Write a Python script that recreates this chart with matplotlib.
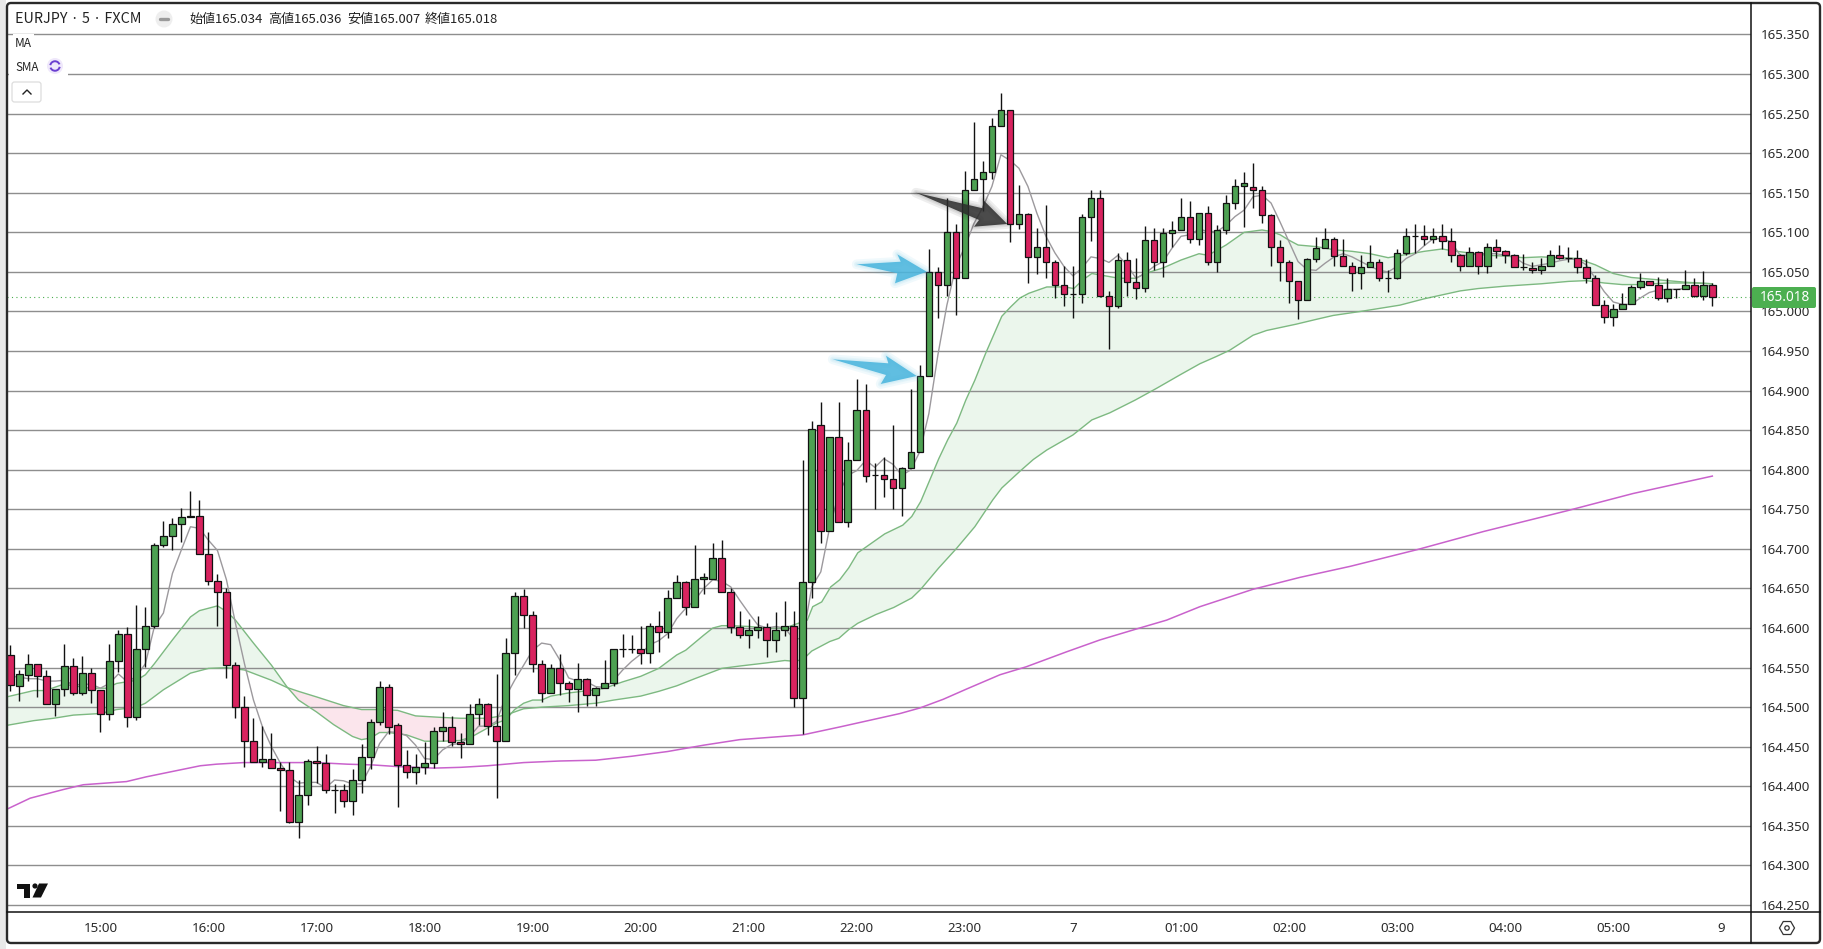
import numpy as np
import matplotlib
matplotlib.use("Agg")
import matplotlib.pyplot as plt
from matplotlib.patches import Polygon, Circle, FancyBboxPatch, Arc

plt.rcParams["font.family"] = ["Noto Sans", "DejaVu Sans"]

# EURJPY 5 min candles
open_p = [
    164.566, 164.527, 164.541, 164.554, 164.540, 164.504, 164.523, 164.552, 164.518, 164.543,
    164.522, 164.492, 164.558, 164.592, 164.487, 164.574, 164.603, 164.705, 164.716, 164.732,
    164.740, 164.742, 164.694, 164.660, 164.646, 164.553, 164.500, 164.457, 164.431, 164.435,
    164.423, 164.420, 164.355, 164.389, 164.432, 164.429, 164.395, 164.395, 164.381, 164.408,
    164.437, 164.481, 164.526, 164.478, 164.427, 164.418, 164.424, 164.430, 164.470, 164.475,
    164.456, 164.453, 164.491, 164.504, 164.476, 164.457, 164.569, 164.641, 164.617, 164.555,
    164.518, 164.550, 164.530, 164.523, 164.535, 164.516, 164.524, 164.530, 164.573, 164.573,
    164.573, 164.569, 164.603, 164.595, 164.638, 164.658, 164.627, 164.662, 164.662, 164.689,
    164.646, 164.601, 164.591, 164.598, 164.601, 164.585, 164.598, 164.603, 164.512, 164.658,
    164.857, 164.722, 164.841, 164.734, 164.812, 164.876, 164.793, 164.793, 164.788, 164.777,
    164.802, 164.823, 164.918, 165.050, 165.033, 165.101, 165.042, 165.154, 165.168, 165.176,
    165.235, 165.254, 165.110, 165.123, 165.069, 165.081, 165.063, 165.033, 165.022, 165.022,
    165.119, 165.143, 165.019, 165.007, 165.065, 165.037, 165.030, 165.090, 165.062, 165.099,
    165.103, 165.120, 165.092, 165.125, 165.062, 165.103, 165.137, 165.159, 165.157, 165.154,
    165.122, 165.081, 165.062, 165.038, 165.015, 165.066, 165.080, 165.092, 165.070, 165.058,
    165.048, 165.056, 165.062, 165.042, 165.042, 165.074, 165.096, 165.096, 165.091, 165.095,
    165.089, 165.072, 165.057, 165.075, 165.058, 165.082, 165.076, 165.071, 165.056, 165.055,
    165.052, 165.058, 165.072, 165.067, 165.068, 165.056, 165.042, 165.008, 164.993, 165.003,
    165.010, 165.031, 165.038, 165.033, 165.017, 165.029, 165.028, 165.034, 165.020, 165.034,
]
high_p = [
    164.578, 164.547, 164.567, 164.555, 164.547, 164.523, 164.580, 164.562, 164.565, 164.550,
    164.522, 164.580, 164.598, 164.601, 164.629, 164.627, 164.708, 164.735, 164.739, 164.752,
    164.773, 164.762, 164.721, 164.668, 164.650, 164.557, 164.514, 164.486, 164.476, 164.468,
    164.431, 164.431, 164.408, 164.435, 164.451, 164.441, 164.403, 164.403, 164.422, 164.454,
    164.485, 164.533, 164.529, 164.480, 164.446, 164.441, 164.456, 164.475, 164.494, 164.489,
    164.468, 164.504, 164.512, 164.505, 164.542, 164.587, 164.645, 164.649, 164.622, 164.560,
    164.555, 164.567, 164.533, 164.556, 164.537, 164.526, 164.559, 164.574, 164.593, 164.591,
    164.603, 164.606, 164.622, 164.648, 164.667, 164.660, 164.705, 164.670, 164.708, 164.711,
    164.650, 164.622, 164.612, 164.615, 164.607, 164.620, 164.634, 164.622, 164.812, 164.862,
    164.885, 164.841, 164.885, 164.835, 164.915, 164.908, 164.809, 164.816, 164.856, 164.804,
    164.902, 164.933, 165.079, 165.056, 165.143, 165.110, 165.178, 165.240, 165.190, 165.244,
    165.276, 165.254, 165.160, 165.124, 165.106, 165.134, 165.065, 165.057, 165.058, 165.123,
    165.153, 165.153, 165.026, 165.074, 165.075, 165.067, 165.108, 165.106, 165.105, 165.114,
    165.144, 165.140, 165.125, 165.133, 165.109, 165.147, 165.168, 165.176, 165.187, 165.159,
    165.123, 165.090, 165.065, 165.039, 165.067, 165.094, 165.105, 165.094, 165.092, 165.063,
    165.072, 165.084, 165.066, 165.053, 165.079, 165.105, 165.111, 165.109, 165.106, 165.110,
    165.106, 165.073, 165.082, 165.076, 165.087, 165.091, 165.078, 165.073, 165.073, 165.062,
    165.068, 165.078, 165.084, 165.082, 165.078, 165.066, 165.046, 165.015, 165.009, 165.023,
    165.034, 165.049, 165.039, 165.043, 165.042, 165.029, 165.053, 165.042, 165.051, 165.036,
]
low_p = [
    164.520, 164.508, 164.533, 164.513, 164.504, 164.489, 164.514, 164.516, 164.516, 164.505,
    164.469, 164.484, 164.545, 164.475, 164.484, 164.551, 164.600, 164.702, 164.698, 164.709,
    164.740, 164.694, 164.655, 164.603, 164.537, 164.486, 164.424, 164.431, 164.425, 164.423,
    164.369, 164.354, 164.335, 164.377, 164.404, 164.392, 164.366, 164.374, 164.364, 164.392,
    164.422, 164.477, 164.466, 164.374, 164.411, 164.403, 164.415, 164.423, 164.457, 164.451,
    164.436, 164.453, 164.477, 164.465, 164.385, 164.457, 164.541, 164.600, 164.544, 164.507,
    164.518, 164.515, 164.506, 164.494, 164.501, 164.502, 164.524, 164.527, 164.564, 164.568,
    164.555, 164.556, 164.570, 164.588, 164.638, 164.616, 164.627, 164.643, 164.662, 164.645,
    164.594, 164.588, 164.575, 164.588, 164.564, 164.570, 164.590, 164.500, 164.466, 164.638,
    164.708, 164.722, 164.734, 164.728, 164.812, 164.785, 164.750, 164.766, 164.751, 164.742,
    164.802, 164.823, 164.918, 164.992, 165.020, 164.995, 165.042, 165.154, 165.127, 165.167,
    165.235, 165.088, 165.104, 165.036, 165.047, 165.042, 165.017, 165.007, 164.992, 165.011,
    165.089, 165.018, 164.952, 165.005, 165.020, 165.016, 165.025, 165.052, 165.043, 165.081,
    165.103, 165.087, 165.084, 165.059, 165.050, 165.098, 165.129, 165.107, 165.131, 165.112,
    165.057, 165.038, 165.011, 164.991, 165.014, 165.063, 165.080, 165.058, 165.058, 165.026,
    165.029, 165.056, 165.038, 165.025, 165.041, 165.071, 165.074, 165.084, 165.086, 165.079,
    165.063, 165.051, 165.057, 165.047, 165.049, 165.068, 165.061, 165.056, 165.052, 165.048,
    165.047, 165.058, 165.066, 165.063, 165.049, 165.036, 165.008, 164.985, 164.982, 165.003,
    165.009, 165.028, 165.033, 165.014, 165.012, 165.017, 165.028, 165.018, 165.015, 165.007,
]
close_p = [
    164.528, 164.542, 164.554, 164.540, 164.504, 164.523, 164.552, 164.518, 164.543, 164.522,
    164.492, 164.558, 164.592, 164.487, 164.574, 164.603, 164.705, 164.716, 164.732, 164.740,
    164.742, 164.694, 164.660, 164.646, 164.553, 164.500, 164.457, 164.431, 164.435, 164.423,
    164.420, 164.355, 164.389, 164.432, 164.429, 164.395, 164.395, 164.381, 164.408, 164.437,
    164.481, 164.526, 164.475, 164.427, 164.418, 164.424, 164.430, 164.470, 164.475, 164.456,
    164.453, 164.491, 164.504, 164.476, 164.457, 164.569, 164.641, 164.617, 164.555, 164.518,
    164.550, 164.530, 164.523, 164.535, 164.516, 164.524, 164.530, 164.573, 164.573, 164.573,
    164.569, 164.603, 164.595, 164.638, 164.658, 164.627, 164.662, 164.665, 164.689, 164.646,
    164.601, 164.591, 164.598, 164.601, 164.585, 164.598, 164.603, 164.512, 164.658, 164.852,
    164.722, 164.841, 164.734, 164.812, 164.876, 164.792, 164.793, 164.788, 164.777, 164.802,
    164.823, 164.918, 165.050, 165.033, 165.101, 165.042, 165.154, 165.168, 165.176, 165.235,
    165.254, 165.110, 165.123, 165.069, 165.081, 165.063, 165.033, 165.022, 165.022, 165.119,
    165.143, 165.019, 165.007, 165.065, 165.037, 165.030, 165.090, 165.062, 165.099, 165.103,
    165.120, 165.092, 165.125, 165.062, 165.103, 165.137, 165.159, 165.162, 165.154, 165.122,
    165.081, 165.062, 165.038, 165.015, 165.066, 165.080, 165.092, 165.070, 165.058, 165.048,
    165.056, 165.062, 165.042, 165.042, 165.074, 165.096, 165.096, 165.091, 165.095, 165.089,
    165.072, 165.057, 165.075, 165.058, 165.082, 165.076, 165.071, 165.056, 165.056, 165.052,
    165.058, 165.072, 165.067, 165.067, 165.056, 165.042, 165.008, 164.993, 165.003, 165.010,
    165.031, 165.038, 165.033, 165.017, 165.029, 165.029, 165.034, 165.020, 165.034, 165.018,
]

# short sma (grey), one value per bar
sma_short = [
    164.539, 164.538, 164.536, 164.536, 164.533, 164.533, 164.534, 164.528, 164.529, 164.529,
    164.524, 164.530, 164.542, 164.532, 164.539, 164.555, 164.602, 164.619, 164.669, 164.699,
    164.728, 164.726, 164.711, 164.698, 164.661, 164.606, 164.555, 164.509, 164.475, 164.450,
    164.429, 164.412, 164.404, 164.405, 164.405, 164.398, 164.408, 164.407, 164.403, 164.403,
    164.425, 164.454, 164.469, 164.468, 164.464, 164.452, 164.435, 164.434, 164.446, 164.453,
    164.454, 164.463, 164.476, 164.476, 164.482, 164.513, 164.534, 164.553, 164.572, 164.581,
    164.579, 164.560, 164.537, 164.533, 164.532, 164.526, 164.525, 164.534, 164.547, 164.558,
    164.567, 164.579, 164.584, 164.593, 164.612, 164.625, 164.635, 164.650, 164.661, 164.659,
    164.652, 164.635, 164.619, 164.604, 164.600, 164.602, 164.600, 164.586, 164.587, 164.652,
    164.671, 164.728, 164.770, 164.793, 164.799, 164.812, 164.803, 164.814, 164.807, 164.793,
    164.800, 164.823, 164.871, 164.945, 165.008, 165.057, 165.082, 165.111, 165.132, 165.158,
    165.198, 165.191, 165.181, 165.158, 165.124, 165.095, 165.074, 165.057, 165.045, 165.055,
    165.069, 165.067, 165.062, 165.071, 165.059, 165.042, 165.048, 165.057, 165.063, 165.080,
    165.095, 165.097, 165.104, 165.101, 165.101, 165.109, 165.120, 165.128, 165.145, 165.147,
    165.137, 165.113, 165.088, 165.063, 165.053, 165.052, 165.061, 165.069, 165.073, 165.069,
    165.063, 165.057, 165.052, 165.050, 165.057, 165.067, 165.073, 165.083, 165.092, 165.092,
    165.088, 165.071, 165.071, 165.073, 165.073, 165.073, 165.071, 165.069, 165.061, 165.057,
    165.059, 165.061, 165.064, 165.066, 165.066, 165.059, 165.042, 165.025, 165.012, 165.009,
    165.009, 165.017, 165.024, 165.027, 165.028, 165.028, 165.029, 165.030, 165.032, 165.033,
]

# band lines, read at the bends: bar index / price
fast_i = [-0.4, 2.6, 3.9, 5.9, 8.9, 10.7, 11.8, 12.9, 14, 15, 16, 18, 20, 21, 23, 24, 25, 27, 29, 30.7,
          32, 34, 35.9, 38, 39, 40, 41, 42, 44, 46, 48, 50, 51.3, 54, 55, 56, 57, 58, 59, 60,
          62, 65, 66, 68, 70, 72, 74, 75, 77, 78, 79, 80, 82, 84, 86, 88.5, 89.1, 90.1, 91.1, 92.1,
          93.1, 94.1, 95.1, 97.1, 99.1, 100.1, 101.1, 102.1, 103.1, 104.1, 105.1, 106.1, 107.1, 108.3, 110.1,
          111.1, 112.1, 113.1, 115.1, 117.1, 118.1, 119.1, 120.1, 121.1, 123.1, 125, 126, 128, 130, 132,
          133, 135, 137, 139, 140, 141, 142, 143, 145, 147, 149, 151, 153, 155, 157,
          159, 160, 162, 164, 166, 168, 170, 172, 174, 176, 178, 180, 182, 184, 186, 189]
fast_p = [164.513, 164.521, 164.521, 164.529, 164.524, 164.524, 164.530, 164.532, 164.534, 164.541,
          164.555, 164.585, 164.614, 164.622, 164.628, 164.621, 164.610, 164.581, 164.553, 164.526,
          164.509, 164.494, 164.478, 164.463, 164.459, 164.461, 164.468, 164.468, 164.465, 164.457,
          164.457, 164.458, 164.463, 164.480, 164.484, 164.497, 164.505, 164.509, 164.509, 164.514,
          164.518, 164.522, 164.524, 164.532, 164.539, 164.549, 164.566, 164.572, 164.591, 164.600,
          164.603, 164.603, 164.602, 164.600, 164.600, 164.610, 164.627, 164.633, 164.652, 164.661,
          164.676, 164.695, 164.703, 164.719, 164.730, 164.741, 164.760, 164.787, 164.814, 164.838,
          164.859, 164.888, 164.913, 164.947, 164.994, 165.006, 165.017, 165.023, 165.031, 165.031,
          165.029, 165.040, 165.048, 165.046, 165.042, 165.042, 165.048, 165.055, 165.065, 165.073,
          165.071, 165.084, 165.100, 165.103, 165.101, 165.097, 165.090, 165.084, 165.082, 165.078,
          165.076, 165.073, 165.068, 165.072, 165.076, 165.079, 165.077, 165.074, 165.071, 165.070,
          165.068, 165.069, 165.068, 165.067, 165.059, 165.048, 165.043, 165.041, 165.039, 165.037,
          165.035]
slow_i = [-0.4, 2.6, 4.8, 7, 10, 11.8, 14, 15, 17, 20, 22, 24, 26, 29, 30.7, 32, 34, 37, 39, 41,
          43, 45, 48, 50, 53, 55, 56, 57, 59, 62, 65, 67, 70, 72, 74, 76, 79, 81, 84, 86,
          87, 88, 89, 90, 91, 92, 93.1, 94.1, 96.1, 98.1, 100.1, 101.1, 103.1, 105.1, 107.1, 109.1, 110.1,
          112.1, 113.6, 115.1, 118, 120.1, 122.1, 124.9, 127.3, 129.9, 132.1, 133.9, 135.4, 138, 139.5, 142.8,
          145, 146.9, 149.9, 154.3, 157, 159, 161, 163, 166, 170, 173, 175, 177, 179, 181, 184, 187, 189]
slow_p = [164.477, 164.483, 164.486, 164.490, 164.492, 164.497, 164.500, 164.505, 164.522, 164.543,
          164.549, 164.550, 164.547, 164.534, 164.525, 164.520, 164.513, 164.502, 164.497, 164.497,
          164.496, 164.489, 164.487, 164.486, 164.486, 164.490, 164.494, 164.498, 164.500, 164.502,
          164.505, 164.509, 164.514, 164.520, 164.527, 164.536, 164.549, 164.552, 164.556, 164.559,
          164.558, 164.560, 164.571, 164.577, 164.583, 164.587, 164.598, 164.606, 164.617, 164.626,
          164.638, 164.649, 164.676, 164.701, 164.728, 164.762, 164.777,
          164.798, 164.813, 164.825, 164.844, 164.863, 164.872, 164.888, 164.903, 164.920, 164.934, 164.943,
          164.951, 164.970, 164.976, 164.984, 164.990, 164.995, 165.000, 165.008, 165.016, 165.021,
          165.026, 165.029, 165.032, 165.035, 165.038, 165.039, 165.036, 165.034, 165.034, 165.036, 165.036, 165.035]
long_i = [-0.4, 2.2, 5.9, 8.1, 12.9, 15.1, 18.1, 21.1, 22.9, 25.9, 31.1, 34, 37.4, 40.3, 42.9, 47, 50,
          53, 57, 61, 65, 69, 73, 77, 81, 88, 92.1, 98.8, 101, 103.6, 106.2, 109.9, 112.8, 117.3, 121,
          125.4, 128.4, 132.1, 138, 143.2, 148.8, 156.2, 163.6, 172.8, 180.2, 189]
long_p = [164.371, 164.385, 164.396, 164.402, 164.406, 164.412, 164.419, 164.426, 164.428, 164.430,
          164.430, 164.430, 164.428, 164.427, 164.425, 164.423, 164.424, 164.426, 164.430, 164.432,
          164.433, 164.438, 164.444, 164.452, 164.459, 164.465, 164.475, 164.492, 164.499, 164.510,
          164.523, 164.541, 164.551, 164.570, 164.585, 164.600, 164.610, 164.627, 164.649, 164.664,
          164.678, 164.699, 164.722, 164.748, 164.770, 164.792]

last_price = 165.018
y_ticks = [164.25, 164.30, 164.35, 164.40, 164.45, 164.50, 164.55, 164.60, 164.65, 164.70, 164.75,
           164.80, 164.85, 164.90, 164.95, 165.00, 165.05, 165.10, 165.15, 165.20, 165.25, 165.30, 165.35]
time_bars = [10, 22, 34, 46, 58, 70, 82, 94, 106, 118, 130, 142, 154, 166, 178, 190]
time_labels = ["15:00", "16:00", "17:00", "18:00", "19:00", "20:00", "21:00", "22:00", "23:00",
               "7", "01:00", "02:00", "03:00", "04:00", "05:00", "9"]

GREEN = "#4da152"
RED = "#d8235f"
W, H = 1824, 949

fig = plt.figure(figsize=(W / 100, H / 100), dpi=100, facecolor="white")
ax = fig.add_axes([7 / W, 1 - 912 / H, (1751.5 - 7) / W, (912 - 3) / H])

x = np.arange(len(open_p))
o = np.array(open_p)
c = np.array(close_p)

# -----------
# band + lines
# -----------
grid_x = np.array(sorted(set(fast_i) | set(slow_i)))
fast_y = np.interp(grid_x, fast_i, fast_p)
slow_y = np.interp(grid_x, slow_i, slow_p)
ax.fill_between(grid_x, fast_y, slow_y, where=fast_y >= slow_y, interpolate=True,
                color="#ebf6ec", lw=0, zorder=1)
ax.fill_between(grid_x, fast_y, slow_y, where=fast_y <= slow_y, interpolate=True,
                color="#fbe5ec", lw=0, zorder=1)

for v in y_ticks:
    ax.axhline(v, color="#8e8e8e", lw=1.0, zorder=1.5)

ax.plot(fast_i, fast_p, color="#7db981", lw=1.0, zorder=2)
ax.plot(slow_i, slow_p, color="#7db981", lw=1.0, zorder=2)
ax.plot(long_i, long_p, color="#c962cc", lw=1.1, zorder=2)
ax.plot(x, sma_short, color="#9c999d", lw=1.0, zorder=2)
ax.axhline(last_price, color="#4caf50", lw=0.8, ls=(0, (1, 3)), zorder=2)

# -----------
# candles
# -----------
ax.vlines(x, low_p, high_p, color="#111111", lw=1.0, zorder=3)
colors = [GREEN if b > a else RED for a, b in zip(o, c)]
ax.bar(x, np.abs(c - o), bottom=np.minimum(o, c), width=0.74, color=colors,
       edgecolor="#111111", linewidth=0.9, zorder=4)

ax.set_xlim(-0.37, 193.35)
ax.set_ylim(164.2412, 165.3898)
ax.yaxis.tick_right()
ax.set_yticks(y_ticks)
ax.set_yticklabels([f"{v:.3f}" for v in y_ticks], fontsize=9.6, color="#2b2b2b")
ax.set_xticks(time_bars)
ax.set_xticklabels(time_labels, fontsize=9.6, color="#2b2b2b")
ax.tick_params(axis="both", length=0)
ax.tick_params(axis="y", pad=7)
ax.tick_params(axis="x", pad=7)
for lab in ax.get_xticklabels():
    if lab.get_text() in ("7", "9"):
        lab.set_fontweight("bold")
for s in ax.spines.values():
    s.set_visible(False)

# -----------
# overlay drawn in pixels: frame, legend, arrows
# -----------
ov = fig.add_axes([0, 0, 1, 1], zorder=5)
ov.set_xlim(0, W)
ov.set_ylim(H, 0)
ov.axis("off")
ov.patch.set_visible(False)


def arrow(points, color, alpha):
    for lw in (7, 4, 2):
        ov.add_patch(Polygon(points, closed=True, fc="none", ec=color, lw=lw, alpha=0.08, joinstyle="round"))
    ov.add_patch(Polygon(points, closed=True, fc=color, ec="none", alpha=alpha))


arrow([(856.7, 264.3), (900.7, 261.7), (897.3, 254.3), (926.7, 271.7), (895, 283.3), (897.3, 273.3)], "#4ab5dd", 0.88)
arrow([(832.7, 359.3), (888.3, 363.3), (886, 355.7), (916.7, 376), (880.7, 384), (886, 375)], "#4ab5dd", 0.88)
arrow([(916, 192.7), (982.7, 208.3), (983.3, 200), (1007.3, 224), (974, 226.7), (979, 220)], "#2b2b2b", 0.85)

# frame
ov.add_patch(plt.Rectangle((0, 0), 6, H, fc="#e9e9e9", ec="none"))
ov.add_patch(FancyBboxPatch((7, 3), 1813, 940, boxstyle="round,pad=0,rounding_size=4",
                            fc="none", ec="#2a2a2a", lw=1.7))
ov.plot([1751.5, 1751.5], [3, 943], color="#111111", lw=1.1)
ov.plot([7, 1820], [912, 912], color="#111111", lw=1.1)

# last price tag
ov.add_patch(FancyBboxPatch((1752, 287), 64, 21, boxstyle="round,pad=0,rounding_size=2",
                            fc="#4caf50", ec="none"))
ov.text(1785, 297.5, f"{last_price:.3f}", color="white", fontsize=9.8, fontweight="bold",
        ha="center", va="center")

# legend
jp = ["Noto Sans CJK JP", "DejaVu Sans"]
bg = dict(fc="white", ec="none", pad=1.5)
ov.text(15, 19, "EURJPY · 5 · FXCM", fontsize=10.3, color="#222222", va="center", family=jp, bbox=bg)
ov.add_patch(Circle((164, 19), 8.5, fc="#eeeeee", ec="none"))
ov.plot([160, 168], [19, 19], color="#9a9a9a", lw=2.4, solid_capstyle="round")
ohlc = [("始値", open_p[-1], 189), ("高値", high_p[-1], 268), ("安値", low_p[-1], 347), ("終値", close_p[-1], 425)]
for name, val, px in ohlc:
    ov.text(px, 19, f"{name}{val:.3f}", fontsize=9.4, color="#222222", va="center", family=jp)
ov.add_patch(plt.Rectangle((9, 54), 59, 26, fc="white", ec="none", zorder=0.5))
ov.text(15, 43, "MA", fontsize=8.6, color="#222222", va="center", family=jp, bbox=bg)
ov.text(15, 67, "SMA", fontsize=8.4, color="#222222", va="center", family=jp, bbox=bg)
ov.add_patch(Circle((55, 66), 8, fc="#efe8fb", ec="none"))
ov.add_patch(Arc((55, 66), 9.5, 9.5, theta1=190, theta2=340, ec="#6a3fd0", lw=1.4))
ov.add_patch(Arc((55, 66), 9.5, 9.5, theta1=10, theta2=160, ec="#6a3fd0", lw=1.4))
ov.add_patch(FancyBboxPatch((12, 82), 29, 20, boxstyle="round,pad=0,rounding_size=2.5",
                            fc="white", ec="#dddddd", lw=0.9))
ov.plot([23, 27, 31], [94, 90, 94], color="#222222", lw=1.0)

# logo
ov.add_patch(Polygon([(17.5, 883.5), (30, 883.5), (30, 897.5), (24, 897.5), (24, 889), (17.5, 889)], fc="#111111", ec="none"))
ov.add_patch(Circle((35, 886), 2.6, fc="#111111", ec="none"))
ov.add_patch(Polygon([(39, 883.5), (48, 883.5), (41, 897.5), (32.5, 897.5)], fc="#111111", ec="none"))

# settings icon
ang = np.deg2rad(np.arange(0, 360, 60))
ov.add_patch(Polygon(np.c_[1787 + 7.5 * np.cos(ang), 928 + 7.5 * np.sin(ang)], fc="white", ec="#333333", lw=0.9))
ov.add_patch(Circle((1787, 928), 2.2, fc="white", ec="#333333", lw=0.9))

fig.savefig("out.png", dpi=100)
